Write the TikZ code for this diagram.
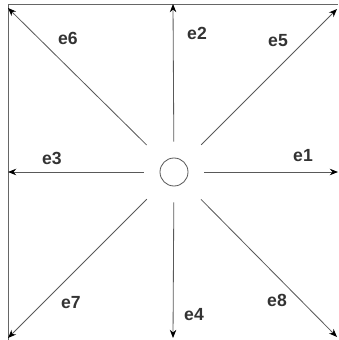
\documentclass[tikz,border=0pt]{standalone}
\usepackage{fontspec}
\setmainfont{Liberation Sans}
\usetikzlibrary{arrows.meta}

\tikzset{
    dir/.style={draw=black!65, line width=0.7pt, -{Stealth[length=7pt,width=5.5pt,color=black]}},
    lab/.style={font=\bfseries\fontsize{15}{17}\selectfont, text=black!80}
}

\begin{document}
\begin{tikzpicture}[x=0.03cm, y=-0.03cm]
    \useasboundingbox (0,0) rectangle (338,340);

    % A keret (csak bal és felső oldal)
    \draw[black!60, line width=0.7pt] (8,340) -- (8,4) -- (338,4);

    % Középső kör
    \node[draw=black!65, circle, line width=0.7pt, minimum size=28*0.03cm, inner sep=0pt] (c) at (174,172) {};

    % Végpontok
    \coordinate (p1) at (338,172);
    \coordinate (p2) at (173,4);
    \coordinate (p3) at (8,172);
    \coordinate (p4) at (173,338);
    \coordinate (p5) at (337,9);
    \coordinate (p6) at (8,8);
    \coordinate (p7) at (8,338);
    \coordinate (p8) at (337,337);

    % Nyilak a körtől
    \draw[dir, shorten <=16*0.03cm] (c) -- (p1);
    \draw[dir, shorten <=16*0.03cm] (c) -- (p2);
    \draw[dir, shorten <=16*0.03cm] (c) -- (p3);
    \draw[dir, shorten <=16*0.03cm] (c) -- (p4);
    \draw[dir, shorten <=24*0.03cm] (c) -- (p5);
    \draw[dir, shorten <=24*0.03cm] (c) -- (p6);
    \draw[dir, shorten <=24*0.03cm] (c) -- (p7);
    \draw[dir, shorten <=24*0.03cm] (c) -- (p8);

    % Feliratok
    \node[lab] (e1) at (303,156) {e1};
    \node[lab] (e2) at (197,33) {e2};
    \node[lab] (e3) at (52,158) {e3};
    \node[lab] (e4) at (194,315) {e4};
    \node[lab] (e5) at (278,41) {e5};
    \node[lab] (e6) at (68,38) {e6};
    \node[lab] (e7) at (71,303) {e7};
    \node[lab] (e8) at (277,300) {e8};

\end{tikzpicture}
\end{document}
